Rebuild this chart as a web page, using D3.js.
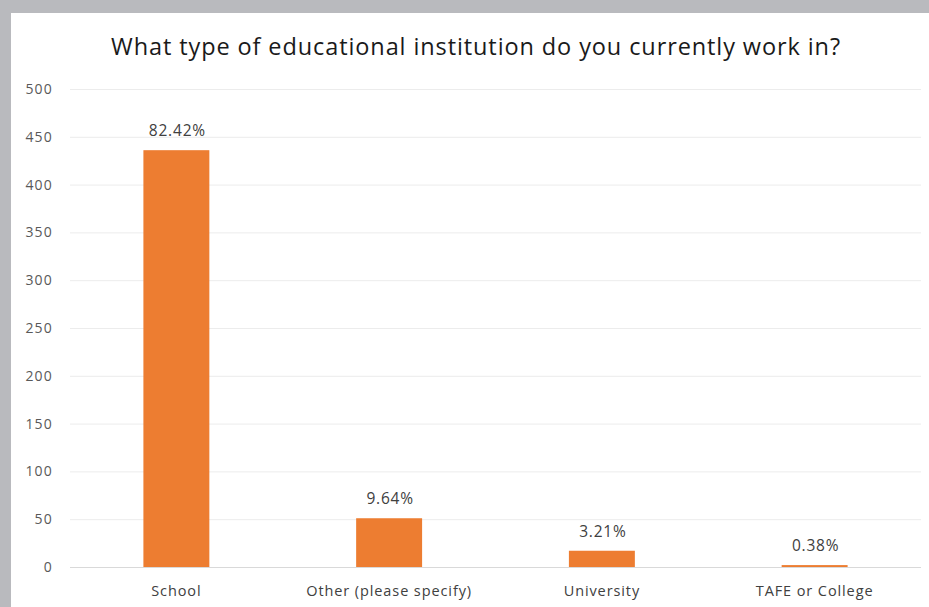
<!DOCTYPE html>
<html>
<head>
<meta charset="utf-8">
<script src="https://cdn.jsdelivr.net/npm/d3@7"></script>
<style>
  html, body { margin: 0; padding: 0; background: #b9babe; }
  svg { display: block; }
</style>
</head>
<body>
<svg id="chart" width="929" height="607"></svg>
<script>
const categories = ["School", "Other (please specify)", "University", "TAFE or College"];
const counts = [436, 51, 17, 2];
const percentLabels = ["82.42%", "9.64%", "3.21%", "0.38%"];
const yTicks = [0, 50, 100, 150, 200, 250, 300, 350, 400, 450, 500];
const titleText = "What type of educational institution do you currently work in?";

const svg = d3.select("#chart");
const W = 929, H = 607;
const font = "'Open Sans', Lato, sans-serif";

// white chart panel inside the grey frame
svg.append("rect").attr("x", 11).attr("y", 13).attr("width", W - 11).attr("height", H - 13).attr("fill", "#ffffff");

const plot = { left: 70, right: 921, top: 89, bottom: 567 };

const x = d3.scaleBand().domain(categories).range([plot.left, plot.right]).paddingInner(0.69).paddingOuter(0.345);
const y = d3.scaleLinear().domain([0, 500]).range([plot.bottom, plot.top]);

// gridlines
svg.append("g").selectAll("line").data(yTicks.slice(1)).join("line")
  .attr("x1", plot.left).attr("x2", plot.right)
  .attr("y1", d => y(d) + 0.5).attr("y2", d => y(d) + 0.5)
  .attr("stroke", "#ececec").attr("stroke-width", 1);

// y axis labels
const yAxis = d3.axisLeft(y).tickValues(yTicks).tickSize(0).tickPadding(0);
const gy = svg.append("g").attr("transform", `translate(53,0)`).call(yAxis);
gy.select(".domain").remove();
gy.selectAll("text").attr("font-family", font).attr("font-size", 14).attr("letter-spacing", 1.2).attr("fill", "#595959");

// bars
svg.append("g").selectAll("rect").data(categories).join("rect")
  .attr("x", d => x(d)).attr("width", x.bandwidth())
  .attr("y", (d, i) => y(counts[i])).attr("height", (d, i) => y(0) - y(counts[i]))
  .attr("fill", "#ed7d31");

// baseline
svg.append("line").attr("x1", plot.left).attr("x2", plot.right)
  .attr("y1", y(0) + 0.5).attr("y2", y(0) + 0.5).attr("stroke", "#d9d9d9");

// x axis labels
const xAxis = d3.axisBottom(x).tickSize(0).tickPadding(0);
const gx = svg.append("g").attr("transform", `translate(0,${plot.bottom + 19})`).call(xAxis);
gx.select(".domain").remove();
gx.selectAll("text").attr("font-family", font).attr("font-size", 14.5).attr("letter-spacing", 0.9).attr("fill", "#404040");

// value labels
svg.append("g").selectAll("text").data(categories).join("text")
  .attr("x", d => x(d) + x.bandwidth() / 2 + 1)
  .attr("y", (d, i) => y(counts[i]) - 14)
  .attr("text-anchor", "middle")
  .attr("font-family", font).attr("font-size", 15.5).attr("letter-spacing", 0.8).attr("fill", "#404040")
  .text((d, i) => percentLabels[i]);

// title
svg.append("text").attr("x", 476).attr("y", 55).attr("text-anchor", "middle")
  .attr("font-family", font).attr("font-size", 23.5).attr("letter-spacing", 0.9).attr("fill", "#1a1a1a")
  .text(titleText);
</script>
</body>
</html>
